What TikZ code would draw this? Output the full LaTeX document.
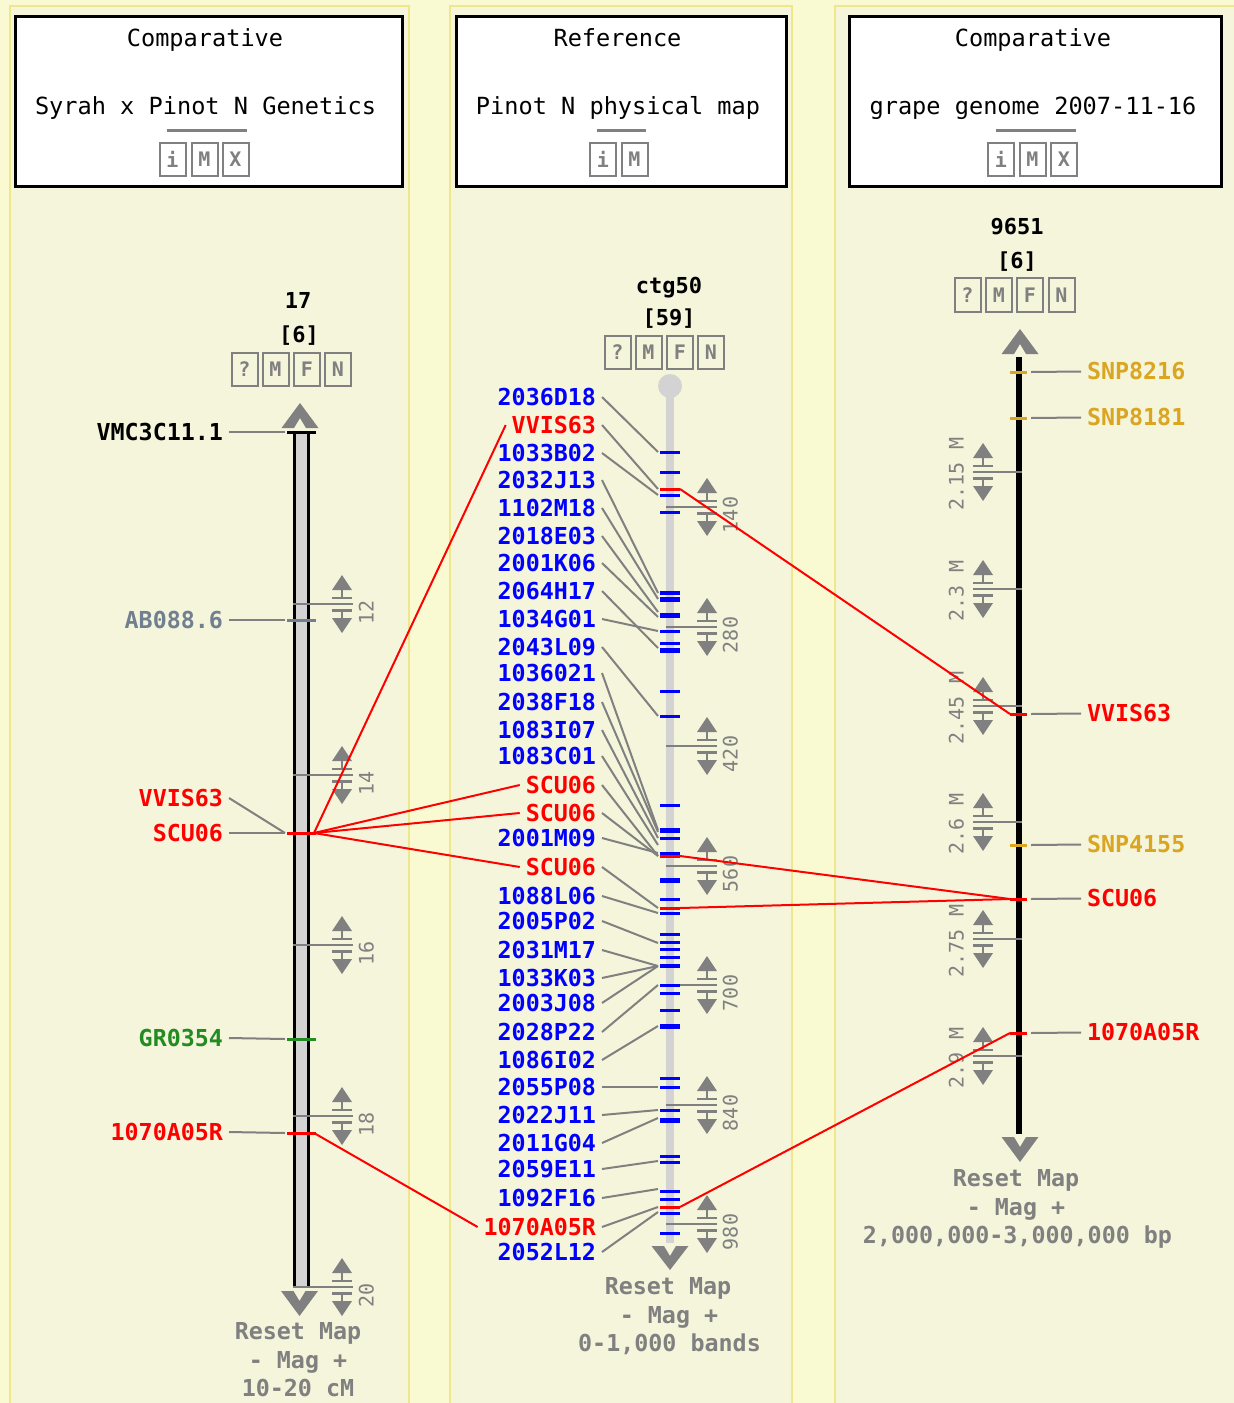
\documentclass[tikz,border=0pt]{standalone}
\usepackage{fontspec}
\setmainfont{DejaVu Sans Mono}
\definecolor{pale}{HTML}{FAFAD2}
\definecolor{panel}{HTML}{F5F5DC}
\definecolor{khakib}{HTML}{F0E68C}
\definecolor{gr}{HTML}{808080}
\definecolor{lgr}{HTML}{D3D3D3}
\definecolor{mblue}{HTML}{0000FF}
\definecolor{mred}{HTML}{FF0000}
\definecolor{mgreen}{HTML}{228B22}
\definecolor{mgold}{HTML}{DAA520}
\definecolor{mslate}{HTML}{708090}
\tikzset{
  ttl/.style={inner sep=0pt, text height=12.6pt, text depth=0pt, font=\fontsize{17.7}{20}\selectfont},
  hdr/.style={inner sep=0pt, text height=12pt, text depth=0pt, font=\fontsize{16.5}{20}\selectfont\bfseries},
  lbl/.style={inner sep=0pt, outer xsep=4.5pt, text height=12.6pt, text depth=0pt, font=\fontsize{17.5}{20}\selectfont\bfseries},
  foot/.style={inner sep=0pt, text height=12.6pt, text depth=0pt, text=gr, font=\fontsize{17.5}{20}\selectfont\bfseries},
  scl/.style={inner sep=0pt, text height=10pt, text depth=0pt, text=gr, font=\fontsize{15}{18}\selectfont, rotate=90},
  btn/.style={draw=gr, line width=1.5pt, minimum width=19.5pt, minimum height=25pt, inner sep=0pt, text=gr, font=\fontsize{15}{18}\selectfont\bfseries},
  conn/.style={draw=gr, line width=1.5pt},
  redl/.style={draw=mred, line width=1.5pt},
  tbox/.style={fill=white, draw=black, line width=2.25pt},
  pnl/.style={fill=panel, draw=khakib, line width=1.5pt},
}
\newcommand\scgadget[2]{%
  \fill[gr] (#1-10,#2-14) -- (#1,#2-29) -- (#1+10,#2-14) -- cycle;
  \fill[gr] (#1-1,#2-15) rectangle (#1+1,#2-6);
  \fill[gr] (#1-10,#2-7.5) rectangle (#1+10,#2-5);
  \fill[gr] (#1-10,#2+5) rectangle (#1+10,#2+7.5);
  \fill[gr] (#1-1,#2+6) rectangle (#1+1,#2+15);
  \fill[gr] (#1-10,#2+14) -- (#1,#2+29) -- (#1+10,#2+14) -- cycle;}
\newcommand\upchev[3]{%
  \fill[gr] (#1-18.5,#3) -- (#1,#2) -- (#1+18.5,#3) -- (#1+6,#3) -- (#1,#3-10) -- (#1-6,#3) -- cycle;}
\newcommand\dnchev[3]{%
  \fill[gr] (#1-18.5,#2) -- (#1-6,#2) -- (#1,#2+10) -- (#1+6,#2) -- (#1+18.5,#2) -- (#1,#3) -- cycle;}
\begin{document}
\begin{tikzpicture}[x=0.75pt,y=-0.75pt]
\useasboundingbox (0,0) rectangle (1234,1403);
\fill[pale] (0,0) rectangle (1234,1403);
\path[pnl] (10,5.5) rectangle (408.5,1420);
\path[pnl] (450,5.5) rectangle (792,1420);
\path[pnl] (834.5,5.5) rectangle (1250,1420);

% ---------- title boxes ----------
\path[tbox] (15.5,16.5) rectangle (402.5,186.5);
\path[tbox] (456.5,16.5) rectangle (786.5,186.5);
\path[tbox] (849.5,16.5) rectangle (1221.5,186.5);

\node[ttl] (t1a) at (205,38.5) {Comparative};
\node[ttl] (t1b) at (205.5,106.5) {Syrah x Pinot N Genetics};
\draw[gr, line width=2.25pt] (167,130) -- (247,130);
\node[btn] (b1i) at (172.5,159.5) {i};
\node[btn] (b1m) at (204.5,159.5) {M};
\node[btn] (b1x) at (235.5,159.5) {X};

\node[ttl] (t2a) at (617.5,38.5) {Reference};
\node[ttl] (t2b) at (618,106.5) {Pinot N physical map};
\draw[gr, line width=2.25pt] (597,130) -- (646,130);
\node[btn] (b2i) at (603,159.5) {i};
\node[btn] (b2m) at (634.5,159.5) {M};

\node[ttl] (t3a) at (1033,38.5) {Comparative};
\node[ttl] (t3b) at (1033,106.5) {grape genome 2007-11-16};
\draw[gr, line width=2.25pt] (996,130) -- (1076,130);
\node[btn] (b3i) at (1001,159.5) {i};
\node[btn] (b3m) at (1032.5,159.5) {M};
\node[btn] (b3x) at (1064,159.5) {X};

% ---------- left map ----------
\node[hdr] (h1a) at (298,300.5) {17};
\node[hdr] (h1b) at (299,334.5) {[6]};
\node[btn] (l1q) at (244.5,369.5) {?};
\node[btn] (l1m) at (275.5,369.5) {M};
\node[btn] (l1f) at (307,369.5) {F};
\node[btn] (l1n) at (338,369.5) {N};
\upchev{300}{403}{428}
\fill[lgr] (295,432) rectangle (308,1287);
\draw[black, line width=2.25pt] (294.5,432) -- (294.5,1287);
\draw[black, line width=2.25pt] (308.5,432) -- (308.5,1287);
\draw[black, line width=2.25pt] (287,432.5) -- (316,432.5);
\dnchev{299.5}{1291}{1316}
\foreach \ty/\t in {604/12, 775/14, 945/16, 1116/18, 1287/20} {
  \draw[gr, line width=1.5pt] (293,\ty) -- (353,\ty);
  \scgadget{342}{\ty}
  \node[scl] at (367,\ty+8) {\t};
}
\node[foot] (f1a) at (298,1331.5) {Reset Map};
\node[foot] (f1b) at (298,1360.5) {- Mag +};
\node[foot] (f1c) at (298,1388.5) {10-20 cM};

\node[lbl, text=black, anchor=east] (lvm) at (229,432) {VMC3C11.1};
\node[lbl, text=mslate, anchor=east] (lab) at (229,620) {AB088.6};
\node[lbl, text=mred, anchor=east] (lvv) at (229,798) {VVIS63};
\node[lbl, text=mred, anchor=east] (lsc) at (229,833) {SCU06};
\node[lbl, text=mgreen, anchor=east] (lgr) at (229,1038) {GR0354};
\node[lbl, text=mred, anchor=east] (l10) at (229,1132) {1070A05R};
\coordinate (kvm) at (285,432);
\coordinate (kab) at (285,620);
\coordinate (ksc) at (285,833);
\coordinate (kgr) at (285,1039);
\coordinate (k10) at (285,1133);
\draw[conn] (lvm.east) -- (kvm);
\draw[conn] (lab.east) -- (kab);
\draw[conn] (lvv.east) -- (ksc);
\draw[conn] (lsc.east) -- (ksc);
\draw[conn] (lgr.east) -- (kgr);
\draw[conn] (l10.east) -- (k10);
\draw[mslate, line width=2.25pt] (287,620) -- (316,620);
\draw[mred, line width=2.25pt] (287,833) -- (316,833);
\draw[mgreen, line width=2.25pt] (287,1039) -- (316,1039);
\draw[mred, line width=2.25pt] (287,1133) -- (316,1133);
\coordinate (LSC) at (314,833);
\coordinate (L10) at (314,1133);

% ---------- middle map ----------
\node[hdr] (h2a) at (669,285) {ctg50};
\node[hdr] (h2b) at (669,317) {[59]};
\node[btn] (m2q) at (617.5,352.5) {?};
\node[btn] (m2m) at (648.5,352.5) {M};
\node[btn] (m2f) at (680,352.5) {F};
\node[btn] (m2n) at (711,352.5) {N};
\fill[lgr] (666,386) rectangle (674,1243);
\fill[lgr] (670,386) circle[radius=12];
\dnchev{670}{1246}{1270}
\foreach \ty/\t in {507/140, 627/280, 746/420, 866/560, 985/700, 1105/840, 1224/980} {
  \draw[gr, line width=1.5pt] (666,\ty) -- (717,\ty);
  \scgadget{707}{\ty}
  \node[scl] at (731,\ty+8) {\t};
}
\foreach \y/\h in {452/3, 472/3, 495/3, 512/3, 593/4, 599/5, 615/5, 631/3, 643/3, 650/5,
  691/3, 716/3, 805/3, 830/5, 838/3, 853/3, 880/5, 899/3, 913/3, 934/3, 942/3, 949/3, 957/3,
  966/4, 985/3, 993/3, 1010/3, 1026/5, 1078/3, 1087/3, 1110/3, 1120/5, 1156/3, 1162/3,
  1191/3, 1199/3, 1213/3, 1233/3}
  \fill[mblue] (660,\y-\h/2) rectangle (680,\y+\h/2);
\foreach \y in {489, 856, 908, 1207}
  \fill[mred] (660,\y-1.5) rectangle (680,\y+1.5);
\node[foot] (f2a) at (668,1286.5) {Reset Map};
\node[foot] (f2b) at (669,1315) {- Mag +};
\node[foot] (f2c) at (669.5,1343) {0-1,000 bands};

\foreach \i/\t/\ly/\ky/\c in {
  1/2036D18/397/452/mblue, 2/VVIS63/425/489/mred, 3/1033B02/453/495/mblue,
  4/2032J13/480/593/mblue, 5/1102M18/508/599/mblue, 6/2018E03/536/612/mblue,
  7/2001K06/563/617/mblue, 8/2064H17/591/648/mblue, 9/1034G01/619/631/mblue,
  10/2043L09/647/716/mblue, 11/1036021/673/830/mblue, 12/2038F18/702/832/mblue,
  13/1083I07/730/838/mblue, 14/1083C01/756/845/mblue, 15/SCU06/785/856/mred,
  16/SCU06/813/856/mred, 17/2001M09/838/853/mblue, 18/SCU06/867/908/mred,
  19/1088L06/896/913/mblue, 20/2005P02/921/943/mblue, 21/2031M17/950/966/mblue,
  22/1033K03/978/966/mblue, 23/2003J08/1003/966/mblue, 24/2028P22/1032/985/mblue,
  25/1086I02/1060/1026/mblue, 26/2055P08/1087/1087/mblue, 27/2022J11/1115/1110/mblue,
  28/2011G04/1143/1118/mblue, 29/2059E11/1169/1161/mblue, 30/1092F16/1198/1189/mblue,
  31/1070A05R/1227/1207/mred, 32/2052L12/1252/1212/mblue} {
  \node[lbl, text=\c, anchor=east] (m\i) at (602,\ly) {\t};
  \coordinate (k\i) at (658,\ky);
  \draw[conn] (m\i.east) -- (k\i);
}
\coordinate (MV) at (680,489);
\coordinate (MS1) at (680,856);
\coordinate (MS2) at (680,908);
\coordinate (MA) at (680,1207);

% ---------- right map ----------
\node[hdr] (h3a) at (1017,226.5) {9651};
\node[hdr] (h3b) at (1017,260.5) {[6]};
\node[btn] (r3q) at (967.5,295) {?};
\node[btn] (r3m) at (999,295) {M};
\node[btn] (r3f) at (1030,295) {F};
\node[btn] (r3n) at (1061.5,295) {N};
\upchev{1020}{329}{354}
\fill[black] (1016,357) rectangle (1022,1134);
\dnchev{1020}{1137}{1162}
\foreach \ty/\t in {472/2.15 M, 589/2.3 M, 706/2.45 M, 822/2.6 M, 939/2.75 M, 1056/2.9 M} {
  \draw[gr, line width=1.5pt] (973,\ty) -- (1022,\ty);
  \scgadget{983}{\ty}
  \node[scl] at (957,\ty+2) {\t};
}
\node[foot] (f3a) at (1016,1178) {Reset Map};
\node[foot] (f3b) at (1016,1207) {- Mag +};
\node[foot] (f3c) at (1017.5,1235) {2,000,000-3,000,000 bp};

\foreach \n/\t/\y/\c in {r1/SNP8216/372/mgold, r2/SNP8181/418/mgold, r3/VVIS63/714/mred,
  r4/SNP4155/845/mgold, r5/SCU06/899/mred, r6/1070A05R/1033/mred} {
  \draw[\c, line width=2.25pt] (1010,\y) -- (1027,\y);
  \node[lbl, text=\c, anchor=west] (\n) at (1081,\y-0.5) {\t};
  \coordinate (c\n) at (1031,\y);
  \draw[conn] (c\n) -- (\n.west);
}
\coordinate (RV) at (1010,714);
\coordinate (RS) at (1010,899);
\coordinate (RA) at (1010,1033);

% ---------- correspondence lines ----------
\draw[redl] (LSC) -- (m2.west);
\draw[redl] (LSC) -- (m15.west);
\draw[redl] (LSC) -- (m16.west);
\draw[redl] (LSC) -- (m18.west);
\draw[redl] (L10) -- (m31.west);
\draw[redl] (MV) -- (RV);
\draw[redl] (MS1) -- (RS);
\draw[redl] (MS2) -- (RS);
\draw[redl] (MA) -- (RA);
\end{tikzpicture}
\end{document}
